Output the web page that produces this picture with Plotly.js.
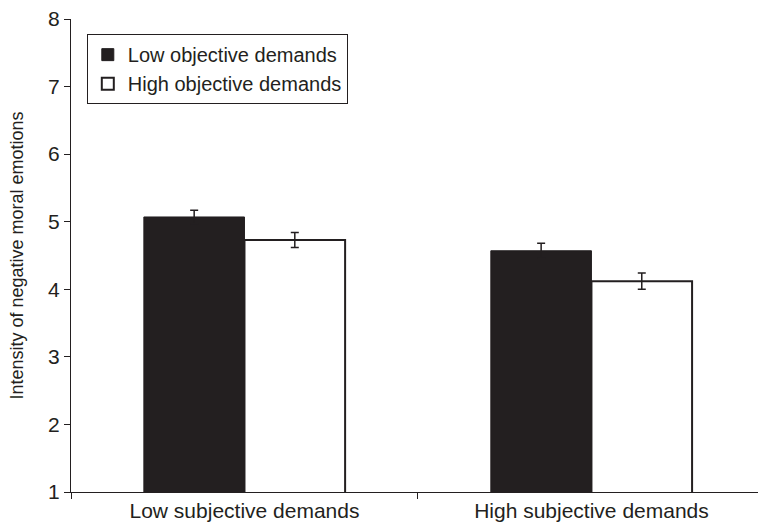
<!DOCTYPE html>
<html>
<head>
<meta charset="utf-8">
<script src="https://cdn.plot.ly/plotly-3.0.1.min.js"></script>
<style>html,body{margin:0;padding:0;background:#fff;}#chart{width:758px;height:526px;}</style>
</head>
<body>
<div id="chart"></div>
<script>
const categories = ["Low subjective demands", "High subjective demands"];
const seriesNames = ["Low objective demands", "High objective demands"];
const lowObjective = [5.07, 4.57];
const lowObjectiveErr = [0.10, 0.11];
const highObjective = [4.73, 4.12];
const highObjectiveErr = [0.11, 0.12];
const yTicks = [1, 2, 3, 4, 5, 6, 7, 8];

const ink = "#231f20";
const font = "Liberation Sans, Arial, sans-serif";

const traces = [
  {
    type: "bar", name: seriesNames[0], x: categories, y: lowObjective,
    marker: {color: ink, line: {color: ink, width: 1}},
    error_y: {type: "data", array: lowObjectiveErr, visible: true, color: ink, thickness: 1.5, width: 4}
  },
  {
    type: "bar", name: seriesNames[1], x: categories, y: highObjective,
    marker: {color: "#ffffff", line: {color: ink, width: 2}},
    error_y: {type: "data", array: highObjectiveErr, visible: true, color: ink, thickness: 1.5, width: 4}
  }
];

const layout = {
  width: 758, height: 526,
  margin: {l: 71, r: 0, t: 19, b: 34},
  paper_bgcolor: "#fff", plot_bgcolor: "#fff",
  font: {family: font, color: ink, size: 18},
  barmode: "group", bargap: 0.42, bargroupgap: 0,
  showlegend: true,
  legend: {
    x: 0.023, y: 0.968, xanchor: "left", yanchor: "top",
    bordercolor: ink, borderwidth: 1, bgcolor: "#fff",
    font: {family: font, size: 20, color: ink},
    tracegroupgap: 0, itemwidth: 30
  },
  xaxis: {
    type: "category", range: [-0.5, 1.48],
    showline: true, linecolor: ink, linewidth: 1,
    ticks: "outside", tickson: "boundaries", ticklen: 6, tickcolor: ink,
    showgrid: false, zeroline: false,
    tickfont: {family: font, size: 21, color: ink}
  },
  yaxis: {
    range: [1, 8], tickvals: yTicks,
    showline: true, linecolor: ink, linewidth: 1,
    ticks: "outside", ticklen: 6, tickcolor: ink,
    showgrid: false, zeroline: false,
    tickfont: {family: font, size: 21, color: ink},
    title: {text: "Intensity of negative moral emotions", font: {family: font, size: 18, color: ink}, standoff: 19}
  }
};

Plotly.newPlot("chart", traces, layout, {displayModeBar: false, staticPlot: true});
</script>
</body>
</html>
